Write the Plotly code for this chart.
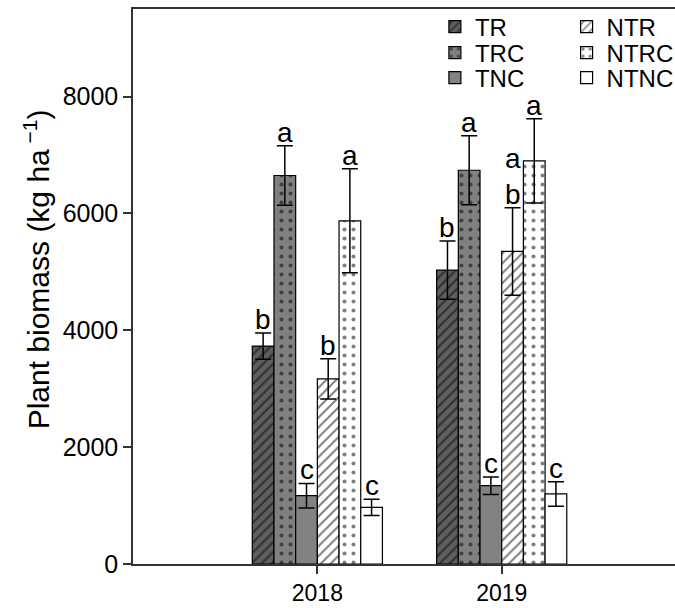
import plotly.graph_objects as go

years = ["2018", "2019"]
x_pos = [1, 2]
treatments = ["TR", "TRC", "TNC", "NTR", "NTRC", "NTNC"]
means = {
    "TR": [3730, 5030],
    "TRC": [6650, 6740],
    "TNC": [1170, 1340],
    "NTR": [3170, 5350],
    "NTRC": [5875, 6900],
    "NTNC": [970, 1200],
}
errs = {
    "TR": [225, 500],
    "TRC": [510, 590],
    "TNC": [210, 150],
    "NTR": [345, 750],
    "NTRC": [890, 720],
    "NTNC": [140, 210],
}
letters = {
    "TR": ["b", "b"],
    "TRC": ["a", "a"],
    "TNC": ["c", "c"],
    "NTR": ["b", "a<br>b"],
    "NTRC": ["a", "a"],
    "NTNC": ["c", "c"],
}
y_ticks = [0, 2000, 4000, 6000, 8000]
y_title = "Plant biomass (kg ha<sup> −1</sup>)"

# legend slot: (column, row)
styles = {
    "TR": dict(bg="#5e5e5e", shape="/", slot=(0, 0)),
    "TRC": dict(bg="#808080", shape=".", slot=(0, 1)),
    "TNC": dict(bg="#828282", shape="", slot=(0, 2)),
    "NTR": dict(bg="#ffffff", shape="/", slot=(1, 0)),
    "NTRC": dict(bg="#ffffff", shape=".", slot=(1, 1)),
    "NTNC": dict(bg="#ffffff", shape="", slot=(1, 2)),
}
leg_cols = [0.557, 0.8]
leg_rows = [0.9676, 0.9207, 0.8757]

FONT = "Liberation Sans, Arial"
bargap = 0.294
n = len(treatments)
bar_w = (1 - bargap) / n

fig = go.Figure()
legends = {}
for i, t in enumerate(treatments):
    s = styles[t]
    if s["shape"] == "/":
        pat = dict(shape="/", fgcolor="black", bgcolor=s["bg"],
                   size=7, solidity=0.28)
    elif s["shape"] == ".":
        pat = dict(shape=".", fgcolor="black", bgcolor=s["bg"],
                   size=9, solidity=0.16)
    else:
        pat = dict(shape="")
    lname = "legend" if i == 0 else f"legend{i + 1}"
    fig.add_trace(go.Bar(
        name=t, x=x_pos, y=means[t],
        marker=dict(color=s["bg"], line=dict(color="black", width=1.2),
                    pattern=pat),
        error_y=dict(type="data", array=errs[t], color="black",
                     thickness=1.5, width=8),
        legend=lname,
    ))
    c, r = s["slot"]
    legends[lname] = dict(x=leg_cols[c], y=leg_rows[r], xanchor="left",
                          yanchor="middle", bgcolor="rgba(0,0,0,0)",
                          font=dict(size=24), itemwidth=30)

annotations = []
for i, t in enumerate(treatments):
    for j, xp in enumerate(x_pos):
        annotations.append(dict(
            x=xp + (i - (n - 1) / 2) * bar_w,
            y=means[t][j] + errs[t][j],
            xref="x", yref="y", text=letters[t][j], showarrow=False,
            yanchor="bottom", yshift=-4,
            font=dict(family=FONT, size=28, color="black"),
        ))
annotations.append(dict(
    x=-0.178, y=0.53, xref="paper", yref="paper", text=y_title,
    textangle=-90, showarrow=False, xanchor="center", yanchor="middle",
    font=dict(family=FONT, size=30, color="black"),
))

fig.update_layout(
    width=675, height=608,
    margin=dict(l=133, r=0, t=9, b=44, autoexpand=False),
    paper_bgcolor="white", plot_bgcolor="white",
    barmode="group", bargap=bargap, bargroupgap=0,
    font=dict(family=FONT, size=24, color="black"),
    annotations=annotations,
    showlegend=True,
    xaxis=dict(range=[0, 2.94], tickvals=x_pos, ticktext=years,
               showline=True, linecolor="#333", linewidth=1.5, mirror=True,
               ticks="outside", ticklen=8, tickcolor="#333", tickwidth=1.5,
               showgrid=False, zeroline=False,
               tickfont=dict(size=23)),
    yaxis=dict(range=[0, 9500], tickvals=y_ticks,
               showline=True, linecolor="#333", linewidth=1.5,
               ticks="outside", ticklen=8, tickcolor="#333", tickwidth=1.5,
               showgrid=False, zeroline=False,
               tickfont=dict(size=25)),
    **legends,
)

fig.write_html("out.html", config={"displayModeBar": False},
               post_script="document.body.style.margin='0';document.body.style.overflow='hidden';")
